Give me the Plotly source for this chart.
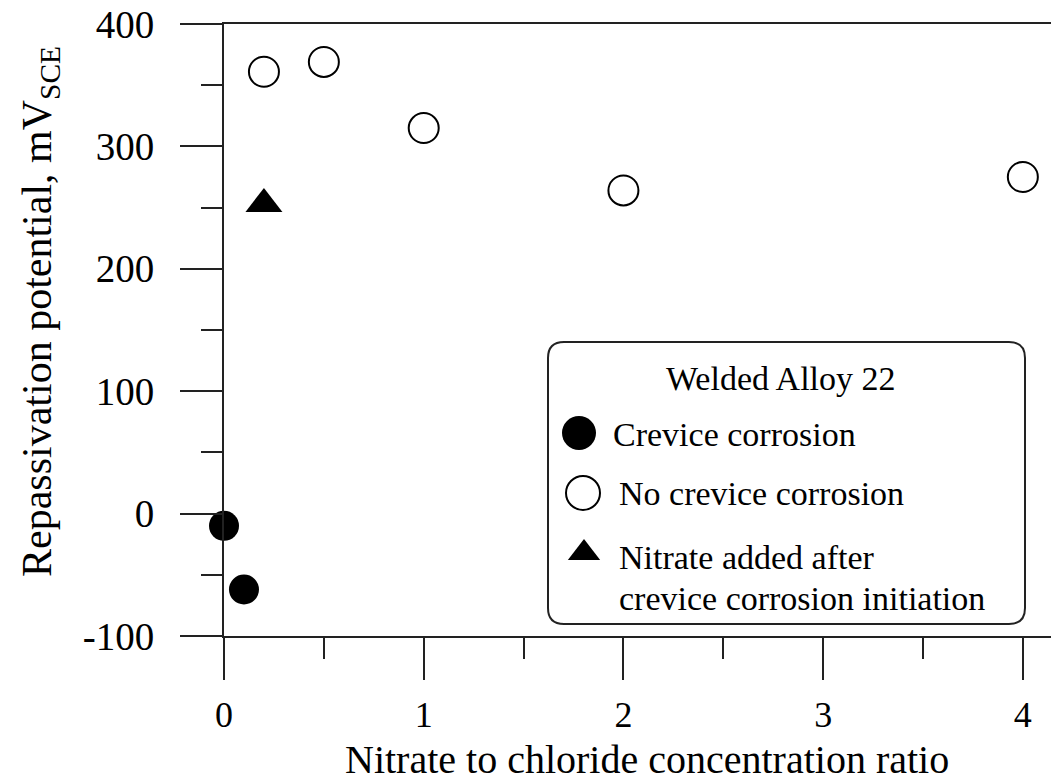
import plotly.graph_objects as go

# ---- data ----
crevice_x = [0.0, 0.1]
crevice_y = [-10, -62]
no_crevice_x = [0.2, 0.5, 1.0, 2.0, 4.0]
no_crevice_y = [361, 369, 315, 264, 275]
nitrate_x = [0.2]
nitrate_y = [253]

x_tickvals = [0, 1, 2, 3, 4]
x_ticktext = ["0", "1", "2", "3", "4"]
y_tickvals = [-100, 0, 100, 200, 300, 400]
y_ticktext = ["-100", "0", "100", "200", "300", "400"]

legend_title = "Welded Alloy 22"
legend_labels = ["Crevice corrosion", "No crevice corrosion",
                 "Nitrate added after", "crevice corrosion initiation"]
x_title = "Nitrate to chloride concentration ratio"
y_title = "Repassivation potential, mV<sub>SCE</sub>"

FONT = "Liberation Serif, Times New Roman, serif"
W, H = 1051, 781
ML, MR, MT, MB = 224, 0, 24, 145
PW, PH = W - ML - MR, H - MT - MB


def px_x(p):
    return (p - ML) / PW


def px_y(p):
    return (H - MB - p) / PH


fig = go.Figure()

fig.add_trace(go.Scatter(x=crevice_x, y=crevice_y, mode="markers", cliponaxis=False,
                         marker=dict(symbol="circle", size=30, color="black",
                                     line=dict(width=0)), showlegend=False))
fig.add_trace(go.Scatter(x=no_crevice_x, y=no_crevice_y, mode="markers", cliponaxis=False,
                         marker=dict(symbol="circle", size=30, color="white",
                                     line=dict(width=2, color="black")), showlegend=False))
fig.add_trace(go.Scatter(x=nitrate_x, y=nitrate_y, mode="markers", cliponaxis=False,
                         marker=dict(symbol="triangle-up", size=32, color="black",
                                     line=dict(width=0)), showlegend=False))

# ---- custom legend (keys on an overlay axis in paper fractions) ----
key_px = [(579, 433), (583, 493), (584, 553)]
key_style = [dict(symbol="circle", size=34, color="black", line=dict(width=0)),
             dict(symbol="circle", size=34, color="white", line=dict(width=2, color="black")),
             dict(symbol="triangle-up", size=28, color="black", line=dict(width=0))]
for (kx, ky), st in zip(key_px, key_style):
    fig.add_trace(go.Scatter(x=[px_x(kx)], y=[px_y(ky)], xaxis="x2", yaxis="y2",
                             mode="markers", cliponaxis=False, marker=st, showlegend=False,
                             hoverinfo="skip"))

# rounded legend box
bx0, bx1, by0, by1 = px_x(548), px_x(1025), px_y(624), px_y(342)
rx, ry = 16 / PW, 16 / PH
path = (f"M{bx0+rx},{by1} L{bx1-rx},{by1} Q{bx1},{by1} {bx1},{by1-ry} "
        f"L{bx1},{by0+ry} Q{bx1},{by0} {bx1-rx},{by0} L{bx0+rx},{by0} "
        f"Q{bx0},{by0} {bx0},{by0+ry} L{bx0},{by1-ry} Q{bx0},{by1} {bx0+rx},{by1} Z")
fig.add_shape(type="path", path=path, xref="paper", yref="paper",
              line=dict(color="#222", width=2), fillcolor="white", layer="below")

LEG_FS = 34
ann = []
ann.append(dict(text=legend_title, x=px_x(781), y=px_y(379), xref="paper", yref="paper",
                showarrow=False, xanchor="center", yanchor="middle",
                font=dict(family=FONT, size=LEG_FS, color="black")))
text_pos = [(611, 434), (617, 494), (617, 557), (617, 598)]
for (tx, ty), lab in zip(text_pos, legend_labels):
    ann.append(dict(text=lab, x=px_x(tx), y=px_y(ty), xref="paper", yref="paper",
                    showarrow=False, xanchor="left", yanchor="middle", align="left",
                    font=dict(family=FONT, size=LEG_FS, color="black")))

# axis titles
ann.append(dict(text=x_title, x=px_x(647), y=px_y(759), xref="paper", yref="paper",
                showarrow=False, xanchor="center", yanchor="middle",
                font=dict(family=FONT, size=40, color="black")))
ann.append(dict(text=y_title, x=px_x(40), y=px_y(312), xref="paper", yref="paper",
                showarrow=False, xanchor="center", yanchor="middle", textangle=-90,
                font=dict(family=FONT, size=42, color="black")))

fig.update_layout(
    width=W, height=H,
    margin=dict(l=ML, r=MR, t=MT, b=MB, pad=0),
    paper_bgcolor="white", plot_bgcolor="white",
    showlegend=False,
    annotations=ann,
    font=dict(family=FONT, color="black"),
    xaxis=dict(range=[0, 4.141], showgrid=False, zeroline=False,
               showline=True, linecolor="#222", linewidth=2, mirror=True,
               ticks="outside", ticklen=42, tickwidth=2, tickcolor="#222",
               tickmode="array", tickvals=x_tickvals, ticktext=x_ticktext,
               minor=dict(ticks="outside", ticklen=21, tickwidth=2, tickcolor="#222",
                          dtick=0.5, tick0=0, showgrid=False),
               tickfont=dict(family=FONT, size=36, color="black"),
               ticklabelstandoff=4, fixedrange=True),
    yaxis=dict(range=[-100, 400], showgrid=False, zeroline=False,
               showline=True, linecolor="#222", linewidth=2,
               ticks="outside", ticklen=42, tickwidth=2, tickcolor="#222",
               tickmode="array", tickvals=y_tickvals, ticktext=y_ticktext,
               minor=dict(ticks="outside", ticklen=21, tickwidth=2, tickcolor="#222",
                          dtick=50, tick0=0, showgrid=False),
               tickfont=dict(family=FONT, size=39, color="black"),
               ticklabelstandoff=18, fixedrange=True),
    xaxis2=dict(range=[0, 1], overlaying="x", visible=False, fixedrange=True),
    yaxis2=dict(range=[0, 1], overlaying="y", visible=False, fixedrange=True),
)

fig.write_html("out.html")
